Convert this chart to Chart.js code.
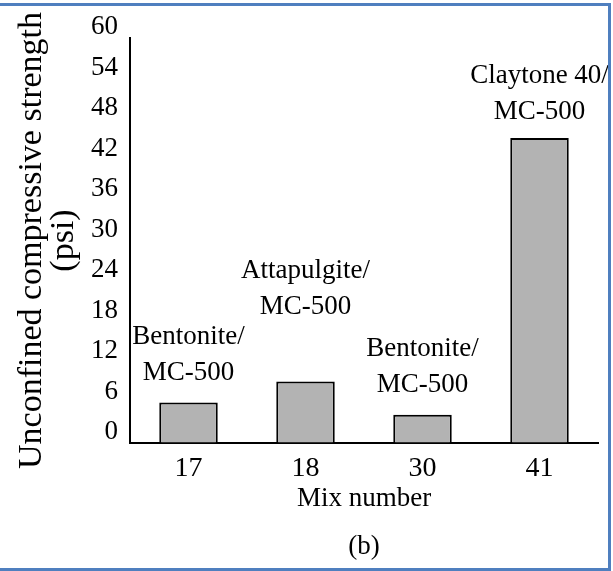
<!DOCTYPE html>
<html>
<head>
<meta charset="utf-8">
<script src="https://cdn.jsdelivr.net/npm/chart.js@4.4.1/dist/chart.umd.min.js"></script>
<style>
  html, body { margin: 0; padding: 0; background: #fff; overflow: hidden; }
  #wrap { position: relative; width: 613px; height: 571px; }
  #frame {
    position: absolute; left: -5px; top: 3px; width: 616px; height: 568px;
    box-sizing: border-box; border: 3px solid #4f7fbf; pointer-events: none;
  }
</style>
</head>
<body>
<div id="wrap">
  <canvas id="chart" width="613" height="571"></canvas>
  <div id="frame"></div>
</div>
<script>
const mixNumbers = ["17", "18", "30", "41"];
const strengthPsi = [6.0, 9.1, 4.2, 45.2];
const barLabels = [
  ["Bentonite/", "MC-500"],
  ["Attapulgite/", "MC-500"],
  ["Bentonite/", "MC-500"],
  ["Claytone 40/", "MC-500"],
];

const serif = "'Liberation Serif', 'DejaVu Serif', serif";
Chart.defaults.color = "#000";

// text above each bar, placed from the bar element position
const barTextPlugin = {
  id: "barText",
  afterDatasetsDraw(chart, args, opts) {
    const ctx = chart.ctx;
    const bars = chart.getDatasetMeta(0).data;
    ctx.save();
    ctx.font = "27px " + serif;
    ctx.fillStyle = "#000";
    ctx.textAlign = "center";
    ctx.textBaseline = "middle";
    bars.forEach((bar, i) => {
      const lines = barLabels[i];
      const lift = opts.lift[i];
      ctx.fillText(lines[1], bar.x, bar.y - lift);
      ctx.fillText(lines[0], bar.x, bar.y - lift - opts.lineGap);
    });
    ctx.restore();
  },
};

new Chart(document.getElementById("chart"), {
  type: "bar",
  data: {
    labels: mixNumbers,
    datasets: [
      {
        data: strengthPsi,
        backgroundColor: "#b3b3b3",
        borderColor: "#000",
        borderWidth: 2,
        borderSkipped: "bottom",
        categoryPercentage: 1,
        barPercentage: 0.5,
      },
    ],
  },
  options: {
    responsive: false,
    animation: false,
    layout: { padding: { top: 38, right: 15, bottom: 0, left: 0 } },
    plugins: {
      legend: { display: false },
      tooltip: { enabled: false },
      barText: { lift: [30, 75, 30, 26], lineGap: 36 },
    },
    scales: {
      x: {
        grid: { display: true, drawTicks: false, color: "rgba(0,0,0,0)" },
        border: { display: true, color: "#000", width: 2 },
        ticks: { font: { family: serif, size: 28 }, color: "#000", padding: 9 },
        title: {
          display: true,
          text: ["Mix number", "(b)"],
          font: { family: serif, size: 27, lineHeight: 1.78 },
          color: "#000",
          padding: { top: 0, bottom: 0 },
        },
        afterFit(scale) {
          scale.height = 128;
        },
      },
      y: {
        min: 0,
        max: 60,
        grid: { display: true, drawTicks: false, color: "rgba(0,0,0,0)" },
        border: { display: true, color: "#000", width: 2 },
        ticks: {
          stepSize: 6,
          font: { family: serif, size: 27 },
          color: "#000",
          padding: 12,
          labelOffset: -11,
        },
        title: {
          display: true,
          text: ["Unconfined compressive strength", "(psi)"],
          font: { family: serif, size: 34, lineHeight: 0.94 },
          color: "#000",
          padding: { top: 16, bottom: 0 },
        },
        afterFit(scale) {
          scale.width = 130;
        },
      },
    },
  },
  plugins: [barTextPlugin],
});
</script>
</body>
</html>
